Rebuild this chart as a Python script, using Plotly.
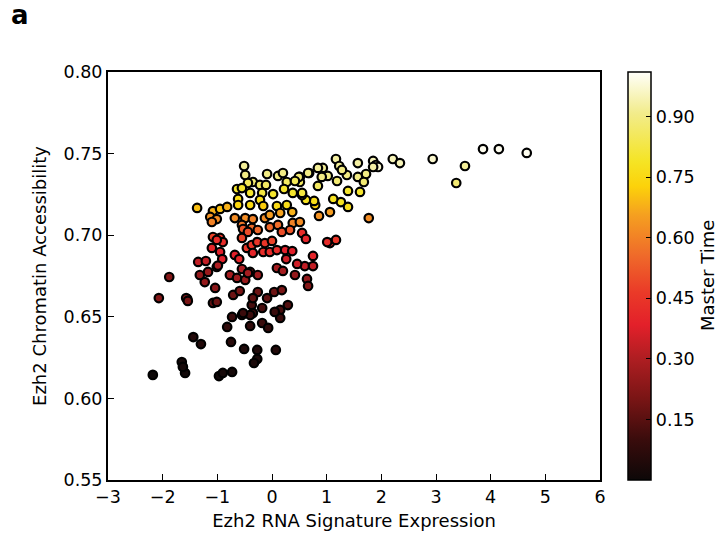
import plotly.graph_objects as go

# Ezh2 RNA signature expression (x), chromatin accessibility (y), master time (colour)
rna_expr = [
    3.86, 4.15, 4.66, 2.94, 3.53, 3.37, 1.77, 2.21, 2.34, 1.85,
    1.90, 1.94, 1.85, 1.57, 1.72, 1.57, 1.68, 1.61, 1.39, 1.39,
    1.26, 1.12, 1.06, 0.86, 0.79, 0.77, 0.62, 0.55, 0.84, 1.19,
    1.37, 1.02, 0.91, 0.93, 0.84, 1.17, 1.23, 1.28, 0.68, 0.51,
    0.51, 0.55, 0.62, 1.06, 1.17, 0.75, 0.60, 0.75, 0.64, 0.66,
    -0.51, -0.49, -0.09, 0.11, 0.20, 0.27, 0.49, 0.42, 0.66, -0.35,
    -0.22, -0.11, -0.44, -0.64, -0.55, -0.40, -0.18, 0.02, 0.22, 0.38,
    0.55, -0.62, -0.62, -0.40, -0.22, -0.16, 0.09, 0.27, 0.15, 0.37,
    -1.37, -1.08, -0.95, -0.82, -1.13, -1.01, -1.10, -0.68, -0.49, -0.35,
    -0.13, -0.04, -0.55, -0.37, -0.26, -0.04, 0.11, 0.38, 0.51, 0.18,
    0.33, -1.08, -0.95, -0.53, -0.44, -0.90, -0.95, -1.35, -1.21, -0.91,
    -1.01, -0.68, -0.60, -0.55, -0.46, -0.37, -0.35, -0.27, -0.13, 0.00,
    -0.16, -0.04, 0.09, 0.24, 0.37, 0.26, 0.46, 0.09, 0.20, 0.42,
    -0.55, -0.40, -0.77, -0.64, -0.49, -0.26, -1.23, -1.04, -0.71, -0.59,
    -0.26, -0.09, 0.04, 0.18, -1.55, -1.08, -0.37, -0.35, -0.18, 0.15,
    0.29, -0.73, -0.55, -0.40, 0.15, -0.82, -0.40, -0.18, -0.07, -1.44,
    -1.30, -0.75, -0.51, -0.27, 0.07, -0.27, -0.33, -1.65, -1.59, -1.63,
    -0.97, -0.90, -0.73, -2.18, -1.88, -2.07, -1.57, -1.54, 0.05, -0.35,
    -0.53, -1.01, -1.32, -1.17, -0.44, -0.99, 1.01, -1.10, -1.01,
]
chromatin = [
    0.7528, 0.7528, 0.7504, 0.7467, 0.7424, 0.7320, 0.7105, 0.7467, 0.7442, 0.7455,
    0.7430, 0.7418, 0.7418, 0.7442, 0.7375, 0.7357, 0.7326, 0.7265, 0.7271, 0.7173,
    0.7203, 0.7222, 0.7142, 0.7118, 0.7185, 0.7210, 0.7216, 0.7246, 0.7302, 0.7332,
    0.7369, 0.7363, 0.7357, 0.7412, 0.7412, 0.7467, 0.7424, 0.7400, 0.7381, 0.7357,
    0.7326, 0.7014, 0.6977, 0.6952, 0.6971, 0.6873, 0.6811, 0.6811, 0.6732, 0.6689,
    0.7424, 0.7369, 0.7375, 0.7363, 0.7381, 0.7326, 0.7357, 0.7332, 0.7381, 0.7326,
    0.7308, 0.7308, 0.7320, 0.7283, 0.7289, 0.7259, 0.7259, 0.7252, 0.7283, 0.7259,
    0.7259, 0.7222, 0.7185, 0.7185, 0.7216, 0.7179, 0.7179, 0.7185, 0.7136, 0.7142,
    0.7167, 0.7148, 0.7161, 0.7173, 0.7112, 0.7099, 0.7081, 0.7105, 0.7105, 0.7099,
    0.7105, 0.7124, 0.7063, 0.7044, 0.7032, 0.7050, 0.7063, 0.7075, 0.7081, 0.7020,
    0.7032, 0.6989, 0.6983, 0.7038, 0.7020, 0.6958, 0.6897, 0.6836, 0.6842, 0.6854,
    0.6805, 0.6879, 0.6854, 0.6983, 0.6922, 0.6940, 0.6891, 0.6958, 0.6952, 0.6965,
    0.6897, 0.6897, 0.6909, 0.6909, 0.6903, 0.6854, 0.6824, 0.6799, 0.6781, 0.6756,
    0.6793, 0.6775, 0.6756, 0.6738, 0.6726, 0.6756, 0.6713, 0.6677, 0.6634, 0.6658,
    0.6652, 0.6615, 0.6652, 0.6664, 0.6609, 0.6585, 0.6572, 0.6523, 0.6554, 0.6542,
    0.6572, 0.6499, 0.6511, 0.6511, 0.6493, 0.6438, 0.6444, 0.6462, 0.6432, 0.6376,
    0.6333, 0.6346, 0.6303, 0.6297, 0.6297, 0.6242, 0.6217, 0.6223, 0.6156, 0.6193,
    0.6137, 0.6156, 0.6162, 0.6144, 0.6744, 0.6615, 0.6615, 0.6597, 0.6530, 0.6615,
    0.6523, 0.6591, 0.6756, 0.6775, 0.6768, 0.6814, 0.6958, 0.6922, 0.6971,
]
master_time = [
    1.00, 1.00, 1.00, 0.97, 0.92, 0.88, 0.62, 0.95, 0.95, 0.95,
    0.93, 0.97, 0.93, 0.93, 0.90, 0.90, 0.88, 0.80, 0.80, 0.76,
    0.78, 0.78, 0.65, 0.63, 0.72, 0.76, 0.78, 0.80, 0.86, 0.88,
    0.90, 0.90, 0.90, 0.92, 0.92, 0.93, 0.92, 0.90, 0.90, 0.90,
    0.86, 0.42, 0.40, 0.42, 0.45, 0.40, 0.33, 0.33, 0.25, 0.22,
    0.92, 0.90, 0.90, 0.90, 0.90, 0.86, 0.88, 0.85, 0.90, 0.88,
    0.86, 0.86, 0.85, 0.80, 0.80, 0.80, 0.82, 0.80, 0.80, 0.80,
    0.82, 0.76, 0.74, 0.75, 0.76, 0.72, 0.75, 0.76, 0.66, 0.68,
    0.70, 0.68, 0.70, 0.68, 0.63, 0.62, 0.60, 0.62, 0.62, 0.60,
    0.62, 0.65, 0.58, 0.56, 0.55, 0.55, 0.56, 0.60, 0.62, 0.50,
    0.52, 0.48, 0.45, 0.52, 0.50, 0.42, 0.38, 0.33, 0.33, 0.38,
    0.33, 0.38, 0.40, 0.48, 0.45, 0.45, 0.40, 0.45, 0.45, 0.48,
    0.42, 0.42, 0.42, 0.38, 0.38, 0.35, 0.35, 0.28, 0.28, 0.25,
    0.30, 0.28, 0.28, 0.27, 0.26, 0.27, 0.25, 0.23, 0.18, 0.20,
    0.18, 0.16, 0.18, 0.20, 0.22, 0.16, 0.12, 0.10, 0.12, 0.12,
    0.14, 0.10, 0.10, 0.10, 0.10, 0.08, 0.08, 0.10, 0.08, 0.05,
    0.05, 0.06, 0.04, 0.04, 0.05, 0.03, 0.03, 0.02, 0.01, 0.02,
    0.01, 0.02, 0.02, 0.00, 0.22, 0.22, 0.20, 0.20, 0.10, 0.16,
    0.10, 0.18, 0.25, 0.26, 0.28, 0.30, 0.42, 0.40, 0.42,
]

x_ticks = [-3, -2, -1, 0, 1, 2, 3, 4, 5, 6]
y_ticks = [0.55, 0.60, 0.65, 0.70, 0.75, 0.80]
cbar_ticks = [0.15, 0.30, 0.45, 0.60, 0.75, 0.90]

colorscale = [
    [0.00, "#0d0808"],
    [0.10, "#3a0c0c"],
    [0.20, "#7a1515"],
    [0.30, "#b01e22"],
    [0.38, "#e3202a"],
    [0.46, "#ea3a28"],
    [0.55, "#ef6a2a"],
    [0.65, "#f5a020"],
    [0.72, "#fcd20a"],
    [0.78, "#f5e424"],
    [0.90, "#f2ec8c"],
    [1.00, "#fffffa"],
]

FONT = "DejaVu Sans"
TICK_SIZE = 17.5
TITLE_SIZE = 18

fig = go.Figure()
fig.add_trace(go.Scatter(
    x=rna_expr, y=chromatin, mode="markers",
    marker=dict(
        size=8.5, color=master_time, colorscale=colorscale, cmin=0.0, cmax=1.01,
        line=dict(color="black", width=2.2),
        colorbar=dict(
            x=1.057, xanchor="left", xpad=0, y=0.5, yanchor="middle", len=1.0,
            lenmode="fraction", thickness=23, thicknessmode="pixels",
            ypad=0,
            outlinecolor="black", outlinewidth=1.5,
            tickmode="array", tickvals=cbar_ticks,
            ticktext=[f"{v:.2f}" for v in cbar_ticks],
            ticks="inside", ticklen=5, tickcolor="black",
            tickfont=dict(family=FONT, size=TICK_SIZE, color="black"),
        ),
    ),
    showlegend=False, hoverinfo="skip",
))

axis_common = dict(
    showline=True, linecolor="black", linewidth=2, mirror=True,
    ticks="inside", ticklen=6, tickwidth=1, tickcolor="black",
    showgrid=False, zeroline=False, automargin=False,
    tickfont=dict(family=FONT, size=TICK_SIZE, color="black"),
)

fig.update_xaxes(
    range=[-3, 6], tickmode="array", tickvals=x_ticks,
    ticktext=[str(v).replace("-", "\u2212") for v in x_ticks],
    title=dict(text="Ezh2 RNA Signature Expression",
               font=dict(family=FONT, size=TITLE_SIZE, color="black"), standoff=8),
    **axis_common,
)
fig.update_yaxes(
    range=[0.55, 0.80], tickmode="array", tickvals=y_ticks,
    ticktext=[f"{v:.2f}" for v in y_ticks],
    title=dict(text="Ezh2 Chromatin Accessibility",
               font=dict(family=FONT, size=TITLE_SIZE, color="black"), standoff=12),
    **axis_common,
)

# The page body adds an 8 px offset, so the figure is sized and margined to compensate.
fig.update_layout(
    width=720, height=528,
    margin=dict(l=100, r=128, t=64, b=56),
    paper_bgcolor="white", plot_bgcolor="white",
    font=dict(family=FONT, color="black"),
    annotations=[
        dict(
            text="<b>a</b>", xref="paper", yref="paper",
            x=-99 / 492, y=1 + 57 / 408, xanchor="left", yanchor="middle",
            showarrow=False, font=dict(family=FONT, size=26, color="black"),
        ),
        dict(
            text="Master Time", xref="paper", yref="paper",
            x=1 + 107 / 492, y=0.5, xanchor="center", yanchor="middle",
            textangle=-90, showarrow=False,
            font=dict(family=FONT, size=TITLE_SIZE, color="black"),
        ),
    ],
)

fig.write_html("out.html")
